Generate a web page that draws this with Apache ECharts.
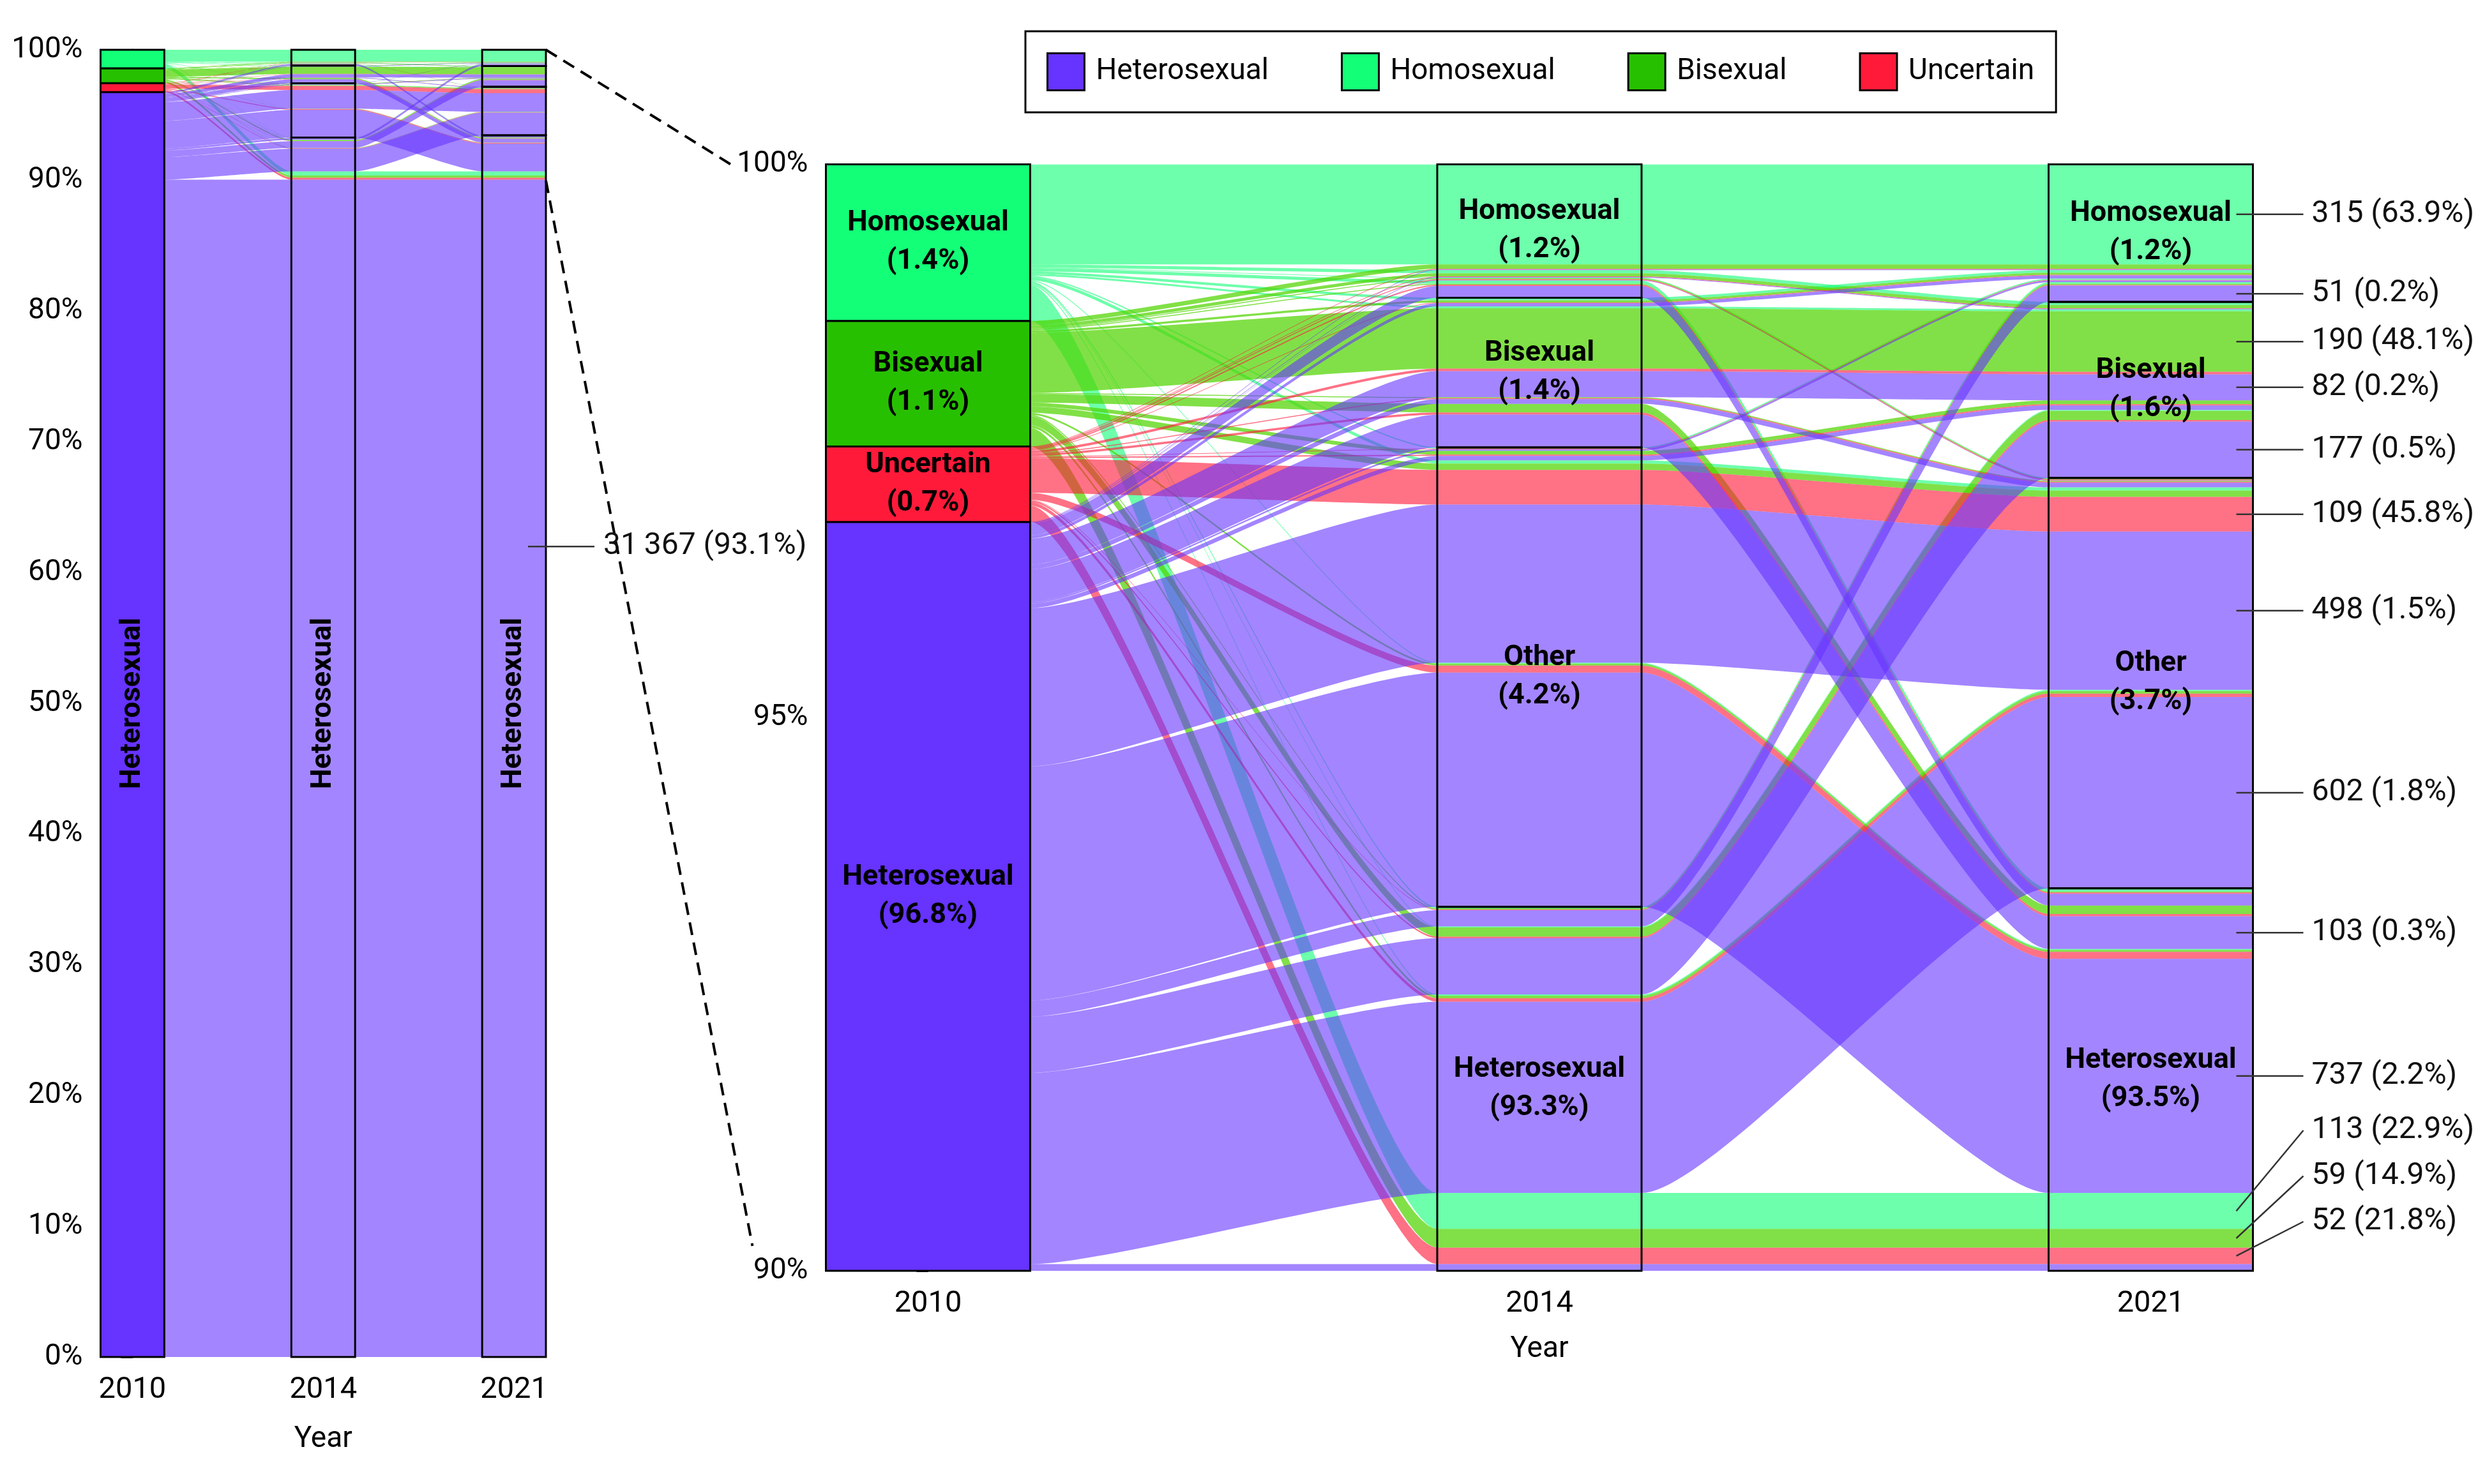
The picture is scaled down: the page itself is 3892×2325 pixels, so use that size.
<!DOCTYPE html>
<html>
<head>
<meta charset="utf-8">
<script src="https://cdn.jsdelivr.net/npm/echarts@6/dist/echarts.min.js"></script>
<style>
html, body { margin: 0; padding: 0; background: #ffffff; }
#chart { width: 3892px; height: 2325px; }
</style>
</head>
<body>
<div id="chart"></div>
<script>
// ---------------- DATA ----------------
const years = ['2010', '2014', '2021'];
// strata per year, bottom to top
const strataOrder = [['H', 'U', 'B', 'M'], ['H', 'O', 'B', 'M'], ['H', 'O', 'B', 'M']];
const categoryNames = { H: 'Heterosexual', U: 'Uncertain', B: 'Bisexual', M: 'Homosexual', O: 'Other' };
const legendCategories = ['Heterosexual', 'Homosexual', 'Bisexual', 'Uncertain'];

// one entry per alluvium (path 2010 -> 2014 -> 2021)
const from2010 = [
  'H','H','H','H','H','H','H','H','H','H','H','H','H','H','H','H',
  'U','U','U','U','U','U','U','U','U','U','U','U','U','U','U','U',
  'B','B','B','B','B','B','B','B','B','B','B','B','B','B','B',
  'M','M','M','M','M','M','M','M','M','M','M','M','M'
];
const in2014 = [
  'H','H','H','H','O','O','O','O','B','B','B','B','M','M','M','M',
  'H','H','H','H','O','O','O','O','B','B','B','B','M','M','M','M',
  'H','H','H','H','O','O','O','B','B','B','B','M','M','M','M',
  'H','H','H','H','O','O','O','B','B','M','M','M','M'
];
const in2021 = [
  'H','O','B','M','H','O','B','M','H','O','B','M','H','O','B','M',
  'H','O','B','M','H','O','B','M','H','O','B','M','H','O','B','M',
  'H','O','B','M','H','O','B','H','O','B','M','H','O','B','M',
  'H','O','B','M','H','O','M','B','M','H','O','B','M'
];
const counts = [
  31367, 602, 177, 51, 737, 498, 14, 5, 103, 15, 82, 10, 37, 1, 2, 2,
  52, 11, 5, 2, 22, 109, 4, 2, 7, 3, 8, 2, 4, 3, 2, 2,
  59, 8, 29, 4, 6, 20, 12, 27, 3, 190, 7, 3, 3, 10, 14,
  113, 4, 3, 5, 3, 10, 4, 6, 8, 10, 2, 10, 315
];
// alluvia annotated with "n (% of 2010 group)"
const annotatedZoom = ['MMM', 'HHM', 'BBB', 'HBB', 'HHB', 'UOO', 'HOO', 'HHO', 'HBH', 'HOH', 'MHH', 'BHH', 'UHH'];
const annotatedOverview = ['HHH'];

// ---------------- STYLE ----------------
const FONT = 'Roboto';
const strataColor = { H: '#6633FF', U: '#FF1A3A', B: '#27C000', M: '#14FF78' };
const flowColor = { H: 'rgba(102,51,255,0.6)', U: 'rgba(255,26,58,0.62)', B: 'rgba(80,212,0,0.72)', M: 'rgba(20,255,120,0.62)' };
const BAR = 0.3342;      // stratum width, in units of the spacing between years
const CURV = 0.18;       // bezier control offset along the gap
const SEG = 48;
const OVERVIEW_LABEL_Y = 62;
const panels = [
  { grid: { left: 157.5, top: 78, width: 697.5, height: 2048 }, yMin: 0, yMax: 100, interval: 10, nameGap: 106 },
  { grid: { left: 1293.5, top: 257.4, width: 2235, height: 1733.6 }, yMin: 90, yMax: 100, interval: 5, nameGap: 100 }
];

// ---------------- LAYOUT (stacking) ----------------
const N = counts.reduce((a, b) => a + b, 0);
const alluvia = counts.map((n, i) => ({
  codes: [from2010[i], in2014[i], in2021[i]],
  key: from2010[i] + in2014[i] + in2021[i],
  n: n, h: n / N * 100, y0: [], y1: []
}));
const originTotal = {};
alluvia.forEach(a => { originTotal[a.codes[0]] = (originTotal[a.codes[0]] || 0) + a.n; });
const priority = [[0, 1, 2], [1, 2, 0], [2, 1, 0]];
for (let ax = 0; ax < 3; ax++) {
  const idx = alluvia.map((_, i) => i).sort((i, j) => {
    for (const p of priority[ax]) {
      const d = strataOrder[p].indexOf(alluvia[i].codes[p]) - strataOrder[p].indexOf(alluvia[j].codes[p]);
      if (d) return d;
    }
    return 0;
  });
  let acc = 0;
  idx.forEach(i => { alluvia[i].y0[ax] = acc; acc += alluvia[i].h; alluvia[i].y1[ax] = acc; });
}
const strata = [];
for (let ax = 0; ax < 3; ax++) {
  strataOrder[ax].forEach(code => {
    const mem = alluvia.filter(a => a.codes[ax] === code);
    const n = mem.reduce((s, a) => s + a.n, 0);
    strata.push({
      axis: ax, code: code, n: n,
      y0: Math.min(...mem.map(a => a.y0[ax])),
      y1: Math.max(...mem.map(a => a.y1[ax]))
    });
  });
}
const byKey = {};
alluvia.forEach(a => { byKey[a.key] = a; });

function fmtCount(n) {
  const s = String(n);
  return n >= 10000 ? s.slice(0, s.length - 3) + '\u2009' + s.slice(-3) : s;
}
function annotText(a) {
  return fmtCount(a.n) + ' (' + (a.n / originTotal[a.codes[0]] * 100).toFixed(1) + '%)';
}

// ---------------- RENDERERS ----------------
function ribbonPoints(api, a) {
  const half = api.coord([BAR / 2, 0])[0] - api.coord([0, 0])[0];
  const xc = [0, 1, 2].map(k => api.coord([k, 0])[0]);
  const edge = ys => {
    const pts = [];
    for (let k = 0; k < 3; k++) {
      const py = api.coord([k, ys[k]])[1];
      if (k > 0) {
        const x0 = xc[k - 1] + half, x1 = xc[k] - half;
        const y0 = api.coord([k - 1, ys[k - 1]])[1];
        const dx = x1 - x0;
        pts.push([x0, y0]);
        for (let s = 1; s < SEG; s++) {
          const t = s / SEG, mt = 1 - t;
          const bx = mt * mt * mt * x0 + 3 * mt * mt * t * (x0 + CURV * dx) + 3 * mt * t * t * (x1 - CURV * dx) + t * t * t * x1;
          const by = (mt * mt * mt + 3 * mt * mt * t) * y0 + (3 * mt * t * t + t * t * t) * py;
          pts.push([bx, by]);
        }
        pts.push([x1, py]);
      }
      pts.push([xc[k] + half, py]);
    }
    return pts;
  };
  return edge(alluvia[0] === a ? a.y1 : a.y1).concat(edge(a.y0).reverse());
}

function flowRender(params, api) {
  const a = alluvia[api.value(0)];
  return {
    type: 'polygon',
    shape: { points: ribbonPoints(api, a) },
    style: { fill: flowColor[a.codes[0]], stroke: null }
  };
}

function strataRender(p) {
  return function (params, api) {
    const s = strata[api.value(0)];
    const lo = Math.max(s.y0, panels[p].yMin), hi = Math.min(s.y1, panels[p].yMax);
    if (hi <= lo) return null;
    const tl = api.coord([s.axis - BAR / 2, hi]);
    const br = api.coord([s.axis + BAR / 2, lo]);
    const children = [{
      type: 'rect',
      shape: { x: tl[0], y: tl[1], width: br[0] - tl[0], height: br[1] - tl[1] },
      style: { fill: s.axis === 0 ? strataColor[s.code] : 'none', stroke: '#000', lineWidth: 3 }
    }];
    const cx = (tl[0] + br[0]) / 2;
    if (p === 1) {
      children.push({
        type: 'text', x: cx, y: (tl[1] + br[1]) / 2,
        style: {
          text: categoryNames[s.code] + '\n(' + (s.n / N * 100).toFixed(1) + '%)',
          fill: '#000', fontSize: 45, fontWeight: 'bold', fontFamily: FONT,
          align: 'center', verticalAlign: 'middle', lineHeight: 60
        }
      });
    } else if (s.code === 'H') {
      const cy = api.coord([0, (panels[p].yMin + panels[p].yMax) / 2])[1];
      children.push({
        type: 'text', x: cx, y: cy, rotation: Math.PI / 2,
        style: {
          text: categoryNames[s.code], fill: '#000', fontSize: 45, fontWeight: 'bold', fontFamily: FONT,
          align: 'center', verticalAlign: 'middle'
        }
      });
    }
    return { type: 'group', children: children };
  };
}

function leader(x1, y1, x2, y2, tx, text) {
  return [
    { type: 'line', shape: { x1: x1, y1: y1, x2: x2, y2: y2 }, style: { stroke: '#333', lineWidth: 2.5 } },
    { type: 'text', x: tx, y: y2, style: { text: text, fill: '#111', fontSize: 48, fontFamily: FONT, align: 'left', verticalAlign: 'middle' } }
  ];
}

function annotZoomRender(params, api) {
  const xr = api.coord([2 + BAR / 2, 0])[0];
  const bottom = api.coord([0, panels[1].yMin])[1];
  const items = annotatedZoom.map(k => {
    const a = byKey[k];
    return { text: annotText(a), py: api.coord([2, (a.y0[2] + a.y1[2]) / 2])[1] };
  }).sort((u, v) => v.py - u.py);
  let limit = bottom - 77;
  let children = [];
  items.forEach(it => {
    const ty = Math.min(it.py, limit);
    limit = ty - 71.5;
    children = children.concat(leader(xr - 26, it.py, xr + 79, ty, xr + 92, it.text));
  });
  return { type: 'group', children: children };
}

function annotOverviewRender(params, api) {
  const xr = api.coord([2 + BAR / 2, 0])[0];
  let children = [];
  annotatedOverview.forEach(k => {
    const y = api.coord([2, OVERVIEW_LABEL_Y])[1];
    children = children.concat(leader(xr - 28, y, xr + 76, y, xr + 90, annotText(byKey[k])));
  });
  return { type: 'group', children: children };
}

// ---------------- OPTION ----------------
const series = [];
panels.forEach((pn, p) => {
  ['M', 'B', 'U', 'H'].forEach(code => {
    series.push({
      type: 'custom', name: categoryNames[code], xAxisIndex: p, yAxisIndex: p,
      clip: true, silent: true, z: 1,
      itemStyle: { color: strataColor[code] },
      data: alluvia.map((a, i) => [i]).filter(d => alluvia[d[0]].codes[0] === code),
      renderItem: flowRender
    });
  });
  series.push({
    type: 'custom', name: 'strata' + p, xAxisIndex: p, yAxisIndex: p,
    clip: false, silent: true, z: 3,
    data: strata.map((s, i) => [i]),
    renderItem: strataRender(p)
  });
});
series.push({ type: 'custom', name: 'annotZoom', xAxisIndex: 1, yAxisIndex: 1, silent: true, z: 4, data: [[0]], renderItem: annotZoomRender });
series.push({ type: 'custom', name: 'annotOverview', xAxisIndex: 0, yAxisIndex: 0, silent: true, z: 4, data: [[0]], renderItem: annotOverviewRender });

const option = {
  animation: false,
  backgroundColor: '#ffffff',
  textStyle: { fontFamily: FONT },
  legend: {
    left: 1606, top: 49, orient: 'horizontal',
    padding: [33, 34, 33, 33],
    itemWidth: 58, itemHeight: 58, itemGap: 113,
    borderColor: '#000', borderWidth: 3, borderRadius: 0,
    selectedMode: false,
    textStyle: { fontSize: 46, fontFamily: FONT, color: '#000', padding: [0, 0, 0, 13] },
    data: legendCategories.map(name => {
      const code = Object.keys(categoryNames).find(c => categoryNames[c] === name);
      return { name: name, icon: 'rect', itemStyle: { color: strataColor[code], borderColor: '#000', borderWidth: 3 } };
    })
  },
  grid: panels.map(pn => Object.assign({ containLabel: false }, pn.grid)),
  xAxis: panels.map((pn, p) => ({
    type: 'value', gridIndex: p, min: -BAR / 2, max: 2 + BAR / 2,
    axisLine: { show: false }, axisTick: { show: false }, splitLine: { show: false },
    axisLabel: {
      customValues: [0, 1, 2], formatter: v => years[Math.round(v)],
      fontSize: 47, fontFamily: FONT, color: '#000', margin: 29
    },
    name: 'Year', nameLocation: 'middle', nameGap: pn.nameGap,
    nameTextStyle: { fontSize: 46, fontFamily: FONT, color: '#000' }
  })),
  yAxis: panels.map((pn, p) => ({
    type: 'value', gridIndex: p, min: pn.yMin, max: pn.yMax, interval: pn.interval,
    axisLine: { show: true, lineStyle: { color: '#000', width: 3 } },
    axisTick: { show: true, length: 18, lineStyle: { color: '#000', width: 3 } },
    axisLabel: { formatter: v => v + '%', fontSize: 46, fontFamily: FONT, color: '#000', margin: 28 },
    splitLine: { show: false }
  })),
  series: series
};

const chart = echarts.init(document.getElementById('chart'), null, { renderer: 'canvas' });
chart.setOption(option);

// zoom connector lines (from overview 2021 column to zoomed panel axis)
const pA = chart.convertToPixel({ xAxisIndex: 0, yAxisIndex: 0 }, [2 + BAR / 2, panels[1].yMax]);
const pB = chart.convertToPixel({ xAxisIndex: 1, yAxisIndex: 1 }, [-BAR / 2, panels[1].yMax]);
const pC = chart.convertToPixel({ xAxisIndex: 0, yAxisIndex: 0 }, [2 + BAR / 2, panels[1].yMin]);
const pD = chart.convertToPixel({ xAxisIndex: 1, yAxisIndex: 1 }, [-BAR / 2, panels[1].yMin]);
const dash = { stroke: '#000', lineWidth: 4, lineDash: [20, 12] };
chart.setOption({
  graphic: [
    { type: 'line', silent: true, shape: { x1: pA[0], y1: pA[1], x2: pB[0] - 146, y2: pB[1] + 2 }, style: dash },
    { type: 'line', silent: true, shape: { x1: pC[0], y1: pC[1], x2: pD[0] - 115, y2: pD[1] - 39 }, style: dash }
  ]
});
</script>
</body>
</html>
